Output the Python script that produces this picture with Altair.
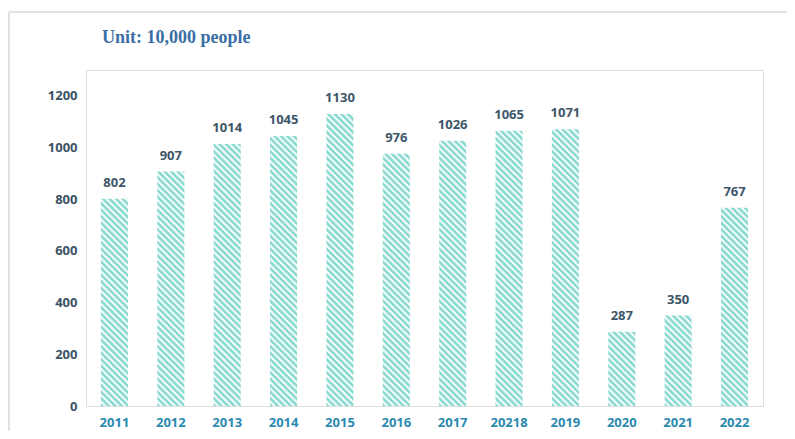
import altair as alt
import pandas as pd

# ---- data ----
years = ["2011", "2012", "2013", "2014", "2015", "2016", "2017", "20218", "2019", "2020", "2021", "2022"]
values = [802, 907, 1014, 1045, 1130, 976, 1026, 1065, 1071, 287, 350, 767]
y_ticks = [0, 200, 400, 600, 800, 1000, 1200]
title_text = "Unit: 10,000 people"

df = pd.DataFrame({"year": years, "value": values})

# ---- layout / style ----
W, H = 677, 336
Y_MAX = 1300
P_IN, P_OUT = 0.52, 0.265
step = W / (len(years) - P_IN + 2 * P_OUT)
bar_w = step * (1 - P_IN)
px_per_unit = H / Y_MAX

TEAL = "#8cdad1"
LIGHT = "#f0fbf9"
PERIOD = 6.5   # stripe period in px (measured along x - y)
L = 420.0      # gradient length in px of (x - y)

stops = []
n = int(L / PERIOD) + 1
for k in range(n):
    base_off = k * PERIOD / L
    for off, col in [(0.0, TEAL), (0.4, TEAL), (0.56, LIGHT), (0.86, LIGHT)]:
        o = base_off + off * PERIOD / L
        if o <= 1:
            stops.append({"offset": round(o, 5), "color": col})


def stripe_gradient(v):
    h = v * px_per_unit
    w = bar_w
    d = L / (w * w + h * h)
    return {
        "gradient": "linear",
        "x1": 0, "y1": 1,
        "x2": d * w, "y2": 1 - d * h,
        "stops": stops,
    }


conds = [
    {"test": f"datum.year === '{yr}'", "value": stripe_gradient(v)}
    for yr, v in zip(years[:-1], values[:-1])
]
fill = alt.FillValue(value=stripe_gradient(values[-1]), condition=conds)

x_enc = alt.X(
    "year:N", sort=years, title=None,
    scale=alt.Scale(paddingInner=P_IN, paddingOuter=P_OUT),
    axis=alt.Axis(labelAngle=0, ticks=False, domain=False, labelPadding=10,
                  labelFont="Open Sans", labelFontSize=13, labelFontWeight="bold",
                  labelColor="#2a8ab0"),
)
y_enc = alt.Y(
    "value:Q", title=None,
    scale=alt.Scale(domain=[0, Y_MAX], nice=False),
    axis=alt.Axis(values=y_ticks, format="d", grid=False, ticks=False, domain=False,
                  labelPadding=9,
                  labelFont="Open Sans", labelFontSize=13, labelFontWeight="bold",
                  labelColor="#3b5264"),
)

base = alt.Chart(df)

bars = base.mark_bar(stroke=None).encode(x=x_enc, y=y_enc, fill=fill)

labels = base.mark_text(
    font="Open Sans", fontSize=13, fontWeight="bold", color="#3d5669",
    baseline="alphabetic", dy=-12,
).encode(x=alt.X("year:N", sort=years), y="value:Q", text="value:Q")

deco_df = pd.DataFrame({"title": [title_text]})
frame_left = alt.Chart(deco_df).mark_rule(color="#e2e2e2", strokeWidth=2).encode(
    x=alt.value(-77), y=alt.value(-58), y2=alt.value(430)
)
frame_top = alt.Chart(deco_df).mark_rule(color="#e2e2e2", strokeWidth=2).encode(
    x=alt.value(-77), x2=alt.value(720), y=alt.value(-58)
)
title = alt.Chart(deco_df).mark_text(
    font="Liberation Serif", fontSize=18, fontWeight="bold", color="#3a6ea5",
    align="left", baseline="middle",
).encode(x=alt.value(16), y=alt.value(-32), text="title:N")

chart = alt.layer(frame_left, frame_top, title, bars, labels).properties(
    width=W, height=H,
    autosize=alt.AutoSizeParams(type="none"),
    padding={"left": 78, "top": 62, "right": 24, "bottom": 25},
).configure_view(stroke="#c8ece9", strokeWidth=2).configure(background="white")

chart.save("out.html", embed_options={"renderer": "svg", "actions": False})
